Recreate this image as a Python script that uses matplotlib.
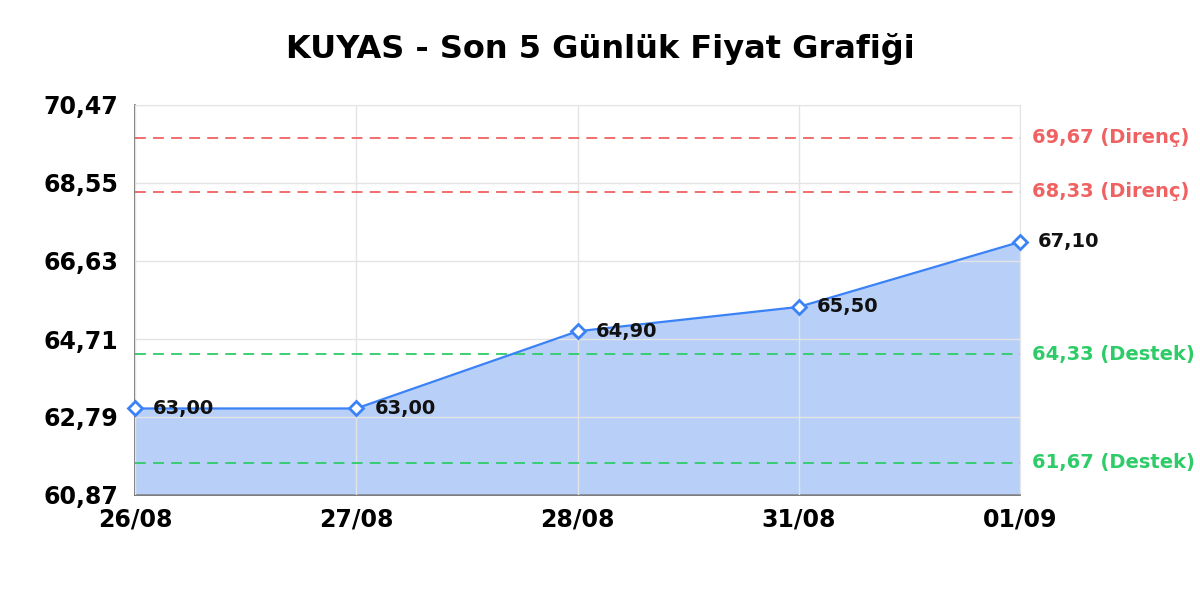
import matplotlib
matplotlib.use("Agg")
import matplotlib.pyplot as plt

# data
dates = ["26/08", "27/08", "28/08", "31/08", "01/09"]
prices = [63.00, 63.00, 64.90, 65.50, 67.10]
resistance = [69.67, 68.33]
support = [64.33, 61.67]
yticks = [60.87, 62.79, 64.71, 66.63, 68.55, 70.47]

def fmt(v):
    return f"{v:.2f}".replace(".", ",")

fig = plt.figure(figsize=(12, 6), dpi=100)
ax = fig.add_axes([0.1125, 0.175, 0.7375, 0.65])

x = list(range(len(dates)))
ax.fill_between(x, prices, yticks[0], color="#b8d0f8", zorder=1)
ax.plot(x, prices, color="#3b82f6", lw=1.6, marker="D", ms=7,
        mfc="white", mec="#3b82f6", mew=2, zorder=4, clip_on=False)

for xi, p in zip(x, prices):
    ax.annotate(fmt(p), (xi, p), xytext=(13, 0), textcoords="offset points",
                ha="left", va="center", fontsize=14, fontweight="bold",
                color="#111111", zorder=5)

for r in resistance:
    ax.axhline(r, color="#f06262", lw=1.3, ls=(0, (6, 4)), zorder=3)
    ax.annotate(f"{fmt(r)} (Direnç)", (1, r), xycoords=("axes fraction", "data"),
                xytext=(9, 0), textcoords="offset points", ha="left", va="center",
                fontsize=14, fontweight="bold", color="#f06262")
for s in support:
    ax.axhline(s, color="#2ecc68", lw=1.3, ls=(0, (6, 4)), zorder=3)
    ax.annotate(f"{fmt(s)} (Destek)", (1, s), xycoords=("axes fraction", "data"),
                xytext=(9, 0), textcoords="offset points", ha="left", va="center",
                fontsize=14, fontweight="bold", color="#2ecc68")

ax.set_xlim(0, len(dates) - 1)
ax.set_ylim(yticks[0], yticks[-1])
ax.set_xticks(x)
ax.set_xticklabels(dates, fontsize=17, fontweight="bold")
ax.set_yticks(yticks)
ax.set_yticklabels([fmt(v) for v in yticks], fontsize=17, fontweight="bold")
ax.tick_params(length=0)
ax.tick_params(axis="y", pad=12)
ax.tick_params(axis="x", pad=9)

ax.grid(True, color="#e4e4e4", lw=1, zorder=2)
ax.set_axisbelow(False)
for side in ["top", "right"]:
    ax.spines[side].set_color("#e4e4e4")
for side in ["left", "bottom"]:
    ax.spines[side].set_color("#6f6f6f")
    ax.spines[side].set_linewidth(1.2)

fig.text(0.5, 0.918, "KUYAS - Son 5 Günlük Fiyat Grafiği", ha="center", va="center",
         fontsize=23, fontweight="bold")

fig.savefig("out.png", dpi=100)
